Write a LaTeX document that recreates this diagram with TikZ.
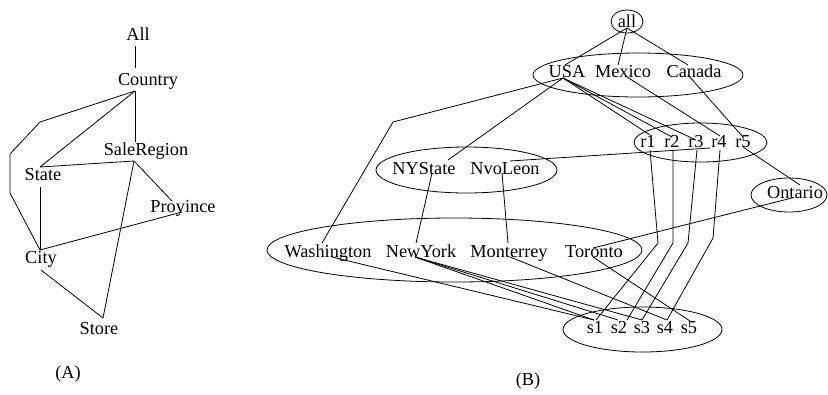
\documentclass[tikz,border=0pt]{standalone}
\usepackage{fontspec}
\setmainfont{Liberation Serif}
\begin{document}
\begin{tikzpicture}[x=1bp,y=-1bp,
  lbl/.style={inner sep=0pt, anchor=base, font=\fontsize{18.3bp}{22bp}\selectfont},
  edge/.style={line width=0.8bp, line join=round},
  grp/.style={draw, line width=0.8bp}]
\useasboundingbox (0,0) rectangle (828,394);

% ---------------- Panel A ----------------
\node[lbl] (All) at (138,40) {All};
\node[lbl] (Country) at (148,85) {Country};
\node[lbl] (SaleRegion) at (146,155) {SaleRegion};
\node[lbl] (State) at (43,180) {State};
\node[lbl] (Proyince) at (183,212) {Proyince};
\node[lbl] (City) at (41,263) {City};
\node[lbl] (Store) at (99,334) {Store};
\node[lbl] (capA) at (68,378) {(A)};

\coordinate (AllS) at (135,46);
\coordinate (CountryN) at (135,68);
\coordinate (CountryS) at (135,91);
\coordinate (SaleN) at (135,142);
\coordinate (SaleS) at (134,161);
\coordinate (StateN) at (40,167);
\coordinate (StateS) at (40,187);
\coordinate (ProvN) at (172,201);
\coordinate (ProvS) at (182,212);
\coordinate (CityN) at (40,250);
\coordinate (CityS) at (41,270);
\coordinate (StoreN) at (103,318);
\coordinate (b1) at (40,122);
\coordinate (b2) at (10,154);
\coordinate (b3) at (10,193);

\draw[edge] (AllS) -- (CountryN);
\draw[edge] (CountryS) -- (SaleN);
\draw[edge] (CountryS) -- (StateN);
\draw[edge] (CountryS) -- (b1) -- (b2) -- (b3) -- (CityN);
\draw[edge] (StateN) -- (SaleS);
\draw[edge] (SaleS) -- (ProvN);
\draw[edge] (StateS) -- (CityN);
\draw[edge] (CityN) -- (ProvS);
\draw[edge] (CityS) -- (StoreN);
\draw[edge] (StoreN) -- (SaleS);

% ---------------- Panel B ----------------
% groups
\draw[grp] (627,21.5) ellipse [x radius=16, y radius=11.5];
\draw[grp] (638,75) ellipse [x radius=105, y radius=22];
\draw[grp] (700.5,142.5) ellipse [x radius=66.5, y radius=19.5];
\draw[grp] (466.5,170) ellipse [x radius=90.5, y radius=23];
\draw[grp] (789,195) ellipse [x radius=38, y radius=17];
\draw[grp] (454.5,250) ellipse [x radius=187.5, y radius=32];
\draw[grp] (642.5,329.5) ellipse [x radius=79.5, y radius=22.5];

\node[lbl] (all) at (627,27) {all};
\node[lbl] (USA) at (567,77) {USA};
\node[lbl] (Mexico) at (623,77) {Mexico};
\node[lbl] (Canada) at (694,77) {Canada};
\node[lbl] (r1) at (648,147) {r1};
\node[lbl] (r2) at (672,147) {r2};
\node[lbl] (r3) at (696,147) {r3};
\node[lbl] (r4) at (719,147) {r4};
\node[lbl] (r5) at (743,147) {r5};
\node[lbl] (NYState) at (424,174) {NYState};
\node[lbl] (NvoLeon) at (505,174) {NvoLeon};
\node[lbl] (Ontario) at (795,198) {Ontario};
\node[lbl] (Washington) at (328,257) {Washington};
\node[lbl] (NewYork) at (421,257) {NewYork};
\node[lbl] (Monterrey) at (509,257) {Monterrey};
\node[lbl] (Toronto) at (594,257) {Toronto};
\node[lbl] (s1) at (595,333) {s1};
\node[lbl] (s2) at (619,333) {s2};
\node[lbl] (s3) at (642,333) {s3};
\node[lbl] (s4) at (665,333) {s4};
\node[lbl] (s5) at (689,333) {s5};
\node[lbl] (capB) at (528,385) {(B)};

% attachment points
\coordinate (allS) at (627,28);
\coordinate (USAN) at (565,65);
\coordinate (MexN) at (618,65);
\coordinate (CanN) at (688,65);
\coordinate (USAS) at (563,78);
\coordinate (MexS) at (627,77);
\coordinate (CanS) at (688,75);
\coordinate (r1N) at (650,135);
\coordinate (r2N) at (672,137);
\coordinate (r3N) at (696,140);
\coordinate (r4N) at (720,136);
\coordinate (r5N) at (743,137);
\coordinate (r1S) at (650,150);
\coordinate (r2S) at (673,150);
\coordinate (r3S) at (697,150);
\coordinate (r4S) at (720,150);
\coordinate (r4W) at (710,148);
\coordinate (r5S) at (743,147);
\coordinate (wbend) at (393,122);
\coordinate (NYSN) at (448,160);
\coordinate (NYSS) at (432,173);
\coordinate (NvoS) at (502,173);
\coordinate (NvoE) at (510,161);
\coordinate (OntN) at (800,185);
\coordinate (OntW) at (792,198);
\coordinate (WashN) at (322,243);
\coordinate (WashS) at (332,257);
\coordinate (NYN) at (416,243);
\coordinate (NYS) at (415,257);
\coordinate (MonN) at (508,243);
\coordinate (MonS) at (510,257);
\coordinate (TorN) at (593,248);
\coordinate (TorS) at (593,257);
\coordinate (s1N) at (594,320);
\coordinate (s2N) at (618,320);
\coordinate (s3N) at (642,320);
\coordinate (s4N) at (667,320);
\coordinate (s5N) at (690,321);
\coordinate (s1Nr) at (596,320);
\coordinate (s2Nr) at (627,320);
\coordinate (s3Nr) at (642,320);
\coordinate (s4Nr) at (667,320);
\coordinate (k1) at (658,243);
\coordinate (k2) at (673,243);
\coordinate (k3) at (688,243);
\coordinate (k4) at (713,238);

\draw[edge] (allS) -- (USAN);
\draw[edge] (allS) -- (MexN);
\draw[edge] (allS) -- (CanN);
\draw[edge] (USAS) -- (r1N);
\draw[edge] (USAS) -- (r2N);
\draw[edge] (USAS) -- (r3N);
\draw[edge] (MexS) -- (r4N);
\draw[edge] (CanS) -- (r5N);
\draw[edge] (USAS) -- (wbend) -- (WashN);
\draw[edge] (USAS) -- (NYSN);
\draw[edge] (NvoE) -- (r4W);
\draw[edge] (r5S) -- (OntN);
\draw[edge] (OntW) -- (TorN);
\draw[edge] (NYSS) -- (NYN);
\draw[edge] (NvoS) -- (MonN);
\draw[edge] (WashS) -- (s1N);
\draw[edge] (NYS) -- (s1N);
\draw[edge] (NYS) -- (s2N);
\draw[edge] (NYS) -- (s3N);
\draw[edge] (MonS) -- (s4N);
\draw[edge] (TorS) -- (s5N);
\draw[edge] (r1S) -- (k1) -- (s1Nr);
\draw[edge] (r2S) -- (k2) -- (s2Nr);
\draw[edge] (r3S) -- (k3) -- (s3Nr);
\draw[edge] (r4S) -- (k4) -- (s4Nr);
\end{tikzpicture}
\end{document}
